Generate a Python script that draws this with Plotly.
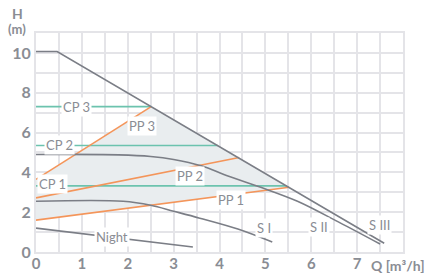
import plotly.graph_objects as go

# ---- data (Q in m3/h, H in m) ----
s3_q = [0, 0.46, 7.59]
s3_h = [10.07, 10.07, 0.44]

s2_q = [0, 1.8, 2.5, 3.0, 3.6, 4.2, 4.9, 5.7, 6.6, 7.5]
s2_h = [4.9, 4.88, 4.8, 4.65, 4.33, 3.8, 3.25, 2.55, 1.5, 0.4]

s1_q = [0, 1.9, 2.5, 3.0, 3.57, 4.4, 5.15]
s1_h = [2.55, 2.55, 2.35, 2.05, 1.7, 1.15, 0.5]

night_q = [0, 3.42]
night_h = [1.2, 0.25]

cp3_q = [0, 2.51]; cp3_h = [7.3, 7.3]
cp2_q = [0, 3.96]; cp2_h = [5.35, 5.35]
cp1_q = [0, 5.46]; cp1_h = [3.32, 3.32]

pp3_q = [0, 2.51]; pp3_h = [3.65, 7.3]
pp2_q = [0, 4.43]; pp2_h = [2.72, 4.75]
pp1_q = [0, 5.52]; pp1_h = [1.6, 3.25]

area_q = [0, 5.52, 2.51, 0]
area_h = [1.6, 3.25, 7.3, 3.65]

x_ticks = [0, 1, 2, 3, 4, 5, 6, 7]
y_ticks = [0, 2, 4, 6, 8, 10]

labels = [
    ("CP 3", 0.89, 7.3), ("CP 2", 0.52, 5.35), ("CP 1", 0.37, 3.4),
    ("PP 3", 2.3, 6.35), ("PP 2", 3.35, 3.8), ("PP 1", 4.26, 2.6),
    ("S I", 4.98, 1.2), ("S II", 6.17, 1.25), ("S III", 7.48, 1.35),
    ("Night", 1.65, 0.74),
]

GRAY = "#7b7e86"
TEAL = "#6cc3ae"
ORANGE = "#f4955a"
GRID = "#e4e4e8"
TXT = "#8a8d94"

fig = go.Figure()
fig.add_trace(go.Scatter(x=area_q, y=area_h, fill="toself", fillcolor="#e9edef",
                         line=dict(width=0), mode="lines", hoverinfo="skip"))

def add_line(q, h, color, shape="linear"):
    fig.add_trace(go.Scatter(x=q, y=h, mode="lines",
                             line=dict(color=color, width=1.6, shape=shape)))

for q, h in [(cp3_q, cp3_h), (cp2_q, cp2_h), (cp1_q, cp1_h)]:
    add_line(q, h, TEAL)
for q, h in [(pp3_q, pp3_h), (pp2_q, pp2_h), (pp1_q, pp1_h)]:
    add_line(q, h, ORANGE)
add_line(s3_q, s3_h, GRAY)
add_line(s2_q, s2_h, GRAY, "spline")
add_line(s1_q, s1_h, GRAY, "spline")
add_line(night_q, night_h, GRAY)

for t, q, h in labels:
    fig.add_annotation(x=q, y=h, text=t, showarrow=False, bgcolor="white",
                       borderpad=1, font=dict(family="Lato", size=13, color=TXT))

fig.add_annotation(xref="paper", yref="paper", x=1.0, y=0, xanchor="left",
                   yanchor="top", xshift=-34, yshift=-3, showarrow=False,
                   text="<b>Q [m³/h]</b>", font=dict(family="Lato", size=14, color=TXT))
fig.add_annotation(xref="paper", yref="paper", x=0, y=1, xanchor="center",
                   yanchor="middle", xshift=-19, yshift=20, showarrow=False,
                   text="<b>H</b>", font=dict(family="Lato", size=14, color=TXT))
fig.add_annotation(xref="paper", yref="paper", x=0, y=1, xanchor="center",
                   yanchor="middle", xshift=-19, yshift=4, showarrow=False,
                   text="<b>(m)</b>", font=dict(family="Lato", size=13, color=TXT))

fig.update_layout(
    width=445, height=273, margin=dict(l=36, r=42, t=33, b=21, autoexpand=False),
    paper_bgcolor="white", plot_bgcolor="white", showlegend=False,
    font=dict(family="Lato", color=TXT),
    xaxis=dict(range=[0, 8], tickvals=x_ticks, ticktext=[f"<b>{v}</b>" for v in x_ticks],
               showgrid=True, gridcolor=GRID, gridwidth=1.5, zeroline=False,
               showline=True, mirror=True, linecolor=GRID, linewidth=2, automargin=False,
               minor=dict(dtick=0.5, showgrid=True, gridcolor=GRID, gridwidth=1.5),
               tickfont=dict(size=15, color=TXT), ticks="", fixedrange=True,
               ticklabelstandoff=-3),
    yaxis=dict(range=[0, 11], tickvals=y_ticks, ticktext=[f"<b>{v}</b>" for v in y_ticks],
               showgrid=True, gridcolor=GRID, gridwidth=1.5, zeroline=False,
               showline=True, mirror=True, linecolor=GRID, linewidth=2, automargin=False,
               minor=dict(dtick=1, showgrid=True, gridcolor=GRID, gridwidth=1.5),
               tickfont=dict(size=16, color=TXT), ticks="", fixedrange=True),
)

fig.write_html("out.html", config={"displayModeBar": False},
               post_script="document.body.style.margin='0px';document.body.style.overflow='hidden';")
